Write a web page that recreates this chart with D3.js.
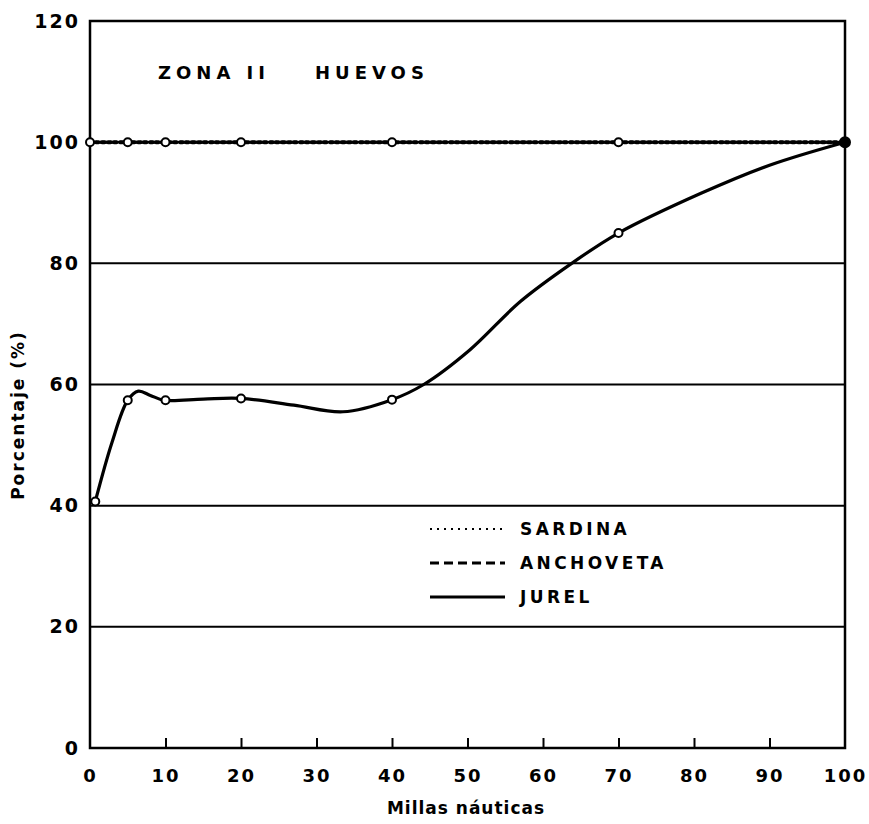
<!DOCTYPE html>
<html><head><meta charset="utf-8">
<script src="https://cdn.jsdelivr.net/npm/d3@7"></script>
<style>
html,body{margin:0;padding:0;background:#fff;}
svg text{font-family:"DejaVu Sans",sans-serif;fill:#000;}
</style></head>
<body><svg id="c" width="869" height="824"></svg>
<script>
// ---- data ----
const distances = [0, 5, 10, 20, 40, 70, 100];          // Millas náuticas (stations)
const sardinaValues = [100, 100, 100, 100, 100, 100, 100];
const anchovetaValues = [100, 100, 100, 100, 100, 100, 100];
const jurelX = [0.7, 5, 10, 20, 40, 70, 100];
const jurelValues = [40.7, 57.4, 57.4, 57.7, 57.5, 85, 100];
// hand-drawn jurel curve
const jurelTraceX = [0.7, 2.9, 5, 6.4, 8, 9.8, 15, 20, 27, 33.5, 40, 44.2, 50.3, 57, 63.8, 70, 81, 90, 100];
const jurelTraceY = [40.7, 50.4, 57.4, 58.9, 58.2, 57.4, 57.6, 57.7, 56.6, 55.5, 57.5, 60, 65.7, 73.7, 80, 85, 91.6, 96.2, 100];
const xTicks = [0, 10, 20, 30, 40, 50, 60, 70, 80, 90, 100];
const yTicks = [0, 20, 40, 60, 80, 100, 120];
const gridValues = [20, 40, 60, 80];
const legendNames = ["SARDINA", "ANCHOVETA", "JUREL"];
const titleParts = ["ZONA II", "HUEVOS"];
const xTitle = "Millas náuticas";
const yTitle = "Porcentaje (%)";

// ---- chart ----
const svg = d3.select("#c");
const x = d3.scaleLinear().domain([0, 100]).range([90, 845]);
const y = d3.scaleLinear().domain([0, 120]).range([748, 21]);

// gridlines
svg.append("g").selectAll("line").data(gridValues).join("line")
  .attr("x1", x(0)).attr("x2", x(100))
  .attr("y1", d => y(d)).attr("y2", d => y(d))
  .attr("stroke", "#000").attr("stroke-width", 2);

// frame
svg.append("rect").attr("x", x(0)).attr("y", y(120))
  .attr("width", x(100) - x(0)).attr("height", y(0) - y(120))
  .attr("fill", "none").attr("stroke", "#000").attr("stroke-width", 2.5);

// inner bottom ticks
svg.append("g").attr("transform", `translate(0,${y(0)})`)
  .call(d3.axisTop(x).tickValues(xTicks.slice(1, -1)).tickSize(10).tickFormat(""))
  .call(g => g.select(".domain").remove())
  .call(g => g.selectAll("line").attr("stroke", "#000").attr("stroke-width", 2));

// x axis labels
svg.append("g").attr("transform", `translate(0,${y(0)})`)
  .call(d3.axisBottom(x).tickValues(xTicks).tickSize(0).tickPadding(21))
  .call(g => g.select(".domain").remove())
  .call(g => g.selectAll("text").attr("font-size", 18).attr("font-weight", "bold")
    .attr("letter-spacing", 2));

// y axis labels
svg.append("g").attr("transform", `translate(${x(0)},0)`)
  .call(d3.axisLeft(y).tickValues(yTicks).tickSize(0).tickPadding(10))
  .call(g => g.select(".domain").remove())
  .call(g => g.selectAll("text").attr("font-size", 19).attr("font-weight", "bold").attr("letter-spacing", 2));

// sardina (dotted) and anchoveta (dashed) at 100
const line = d3.line().x(d => x(d[0])).y(d => y(d[1]));
svg.append("path").datum(d3.zip(distances, anchovetaValues))
  .attr("d", line).attr("fill", "none").attr("stroke", "#000")
  .attr("stroke-width", 3).attr("stroke-dasharray", "7,3");
svg.append("path").datum(d3.zip(distances, sardinaValues))
  .attr("d", line).attr("fill", "none").attr("stroke", "#000")
  .attr("stroke-width", 4).attr("stroke-dasharray", "2.5,3.5").attr("stroke-linecap", "round");

// jurel smooth curve
const curve = d3.line().x(d => x(d[0])).y(d => y(d[1])).curve(d3.curveCatmullRom.alpha(0.5));
svg.append("path").datum(d3.zip(jurelTraceX, jurelTraceY))
  .attr("d", curve).attr("fill", "none").attr("stroke", "#000").attr("stroke-width", 3.2);

// markers on 100 line
svg.append("g").selectAll("circle").data(d3.zip(distances, sardinaValues).slice(0, -1)).join("circle")
  .attr("cx", d => x(d[0])).attr("cy", d => y(d[1])).attr("r", 4)
  .attr("fill", "#fff").attr("stroke", "#000").attr("stroke-width", 2);
// jurel markers
svg.append("g").selectAll("circle").data(d3.zip(jurelX, jurelValues)).join("circle")
  .attr("cx", d => x(d[0])).attr("cy", d => y(d[1])).attr("r", (d, i) => i === jurelX.length - 1 ? 5 : 4)
  .attr("fill", (d, i) => i === jurelX.length - 1 ? "#000" : "#fff")
  .attr("stroke", "#000").attr("stroke-width", 2);

// title
const titleX = [158, 315];
titleParts.forEach((t, i) => {
  svg.append("text").attr("x", titleX[i]).attr("y", 79).attr("font-size", 18).attr("font-weight", "bold")
    .attr("letter-spacing", 5).text(t);
});

// legend
const legY = [529, 563, 597];
const dashes = ["2,5", "9,5", null];
legendNames.forEach((n, i) => {
  const l = svg.append("line").attr("x1", 430).attr("x2", 505).attr("y1", legY[i]).attr("y2", legY[i])
    .attr("stroke", "#000").attr("stroke-width", i === 0 ? 2 : 3);
  if (dashes[i]) l.attr("stroke-dasharray", dashes[i]);
  svg.append("text").attr("x", 520).attr("y", legY[i]).attr("dy", "0.36em")
    .attr("font-size", 17).attr("font-weight", "bold").attr("letter-spacing", 3.4).text(n);
});

// axis titles
svg.append("text").attr("x", 466).attr("y", 814).attr("text-anchor", "middle")
  .attr("font-size", 17).attr("font-weight", "bold").attr("letter-spacing", 1).text(xTitle);
svg.append("text").attr("transform", "translate(24,415) rotate(-90)").attr("text-anchor", "middle")
  .attr("font-size", 17).attr("font-weight", "bold").attr("letter-spacing", 2).text(yTitle);
</script></body></html>
